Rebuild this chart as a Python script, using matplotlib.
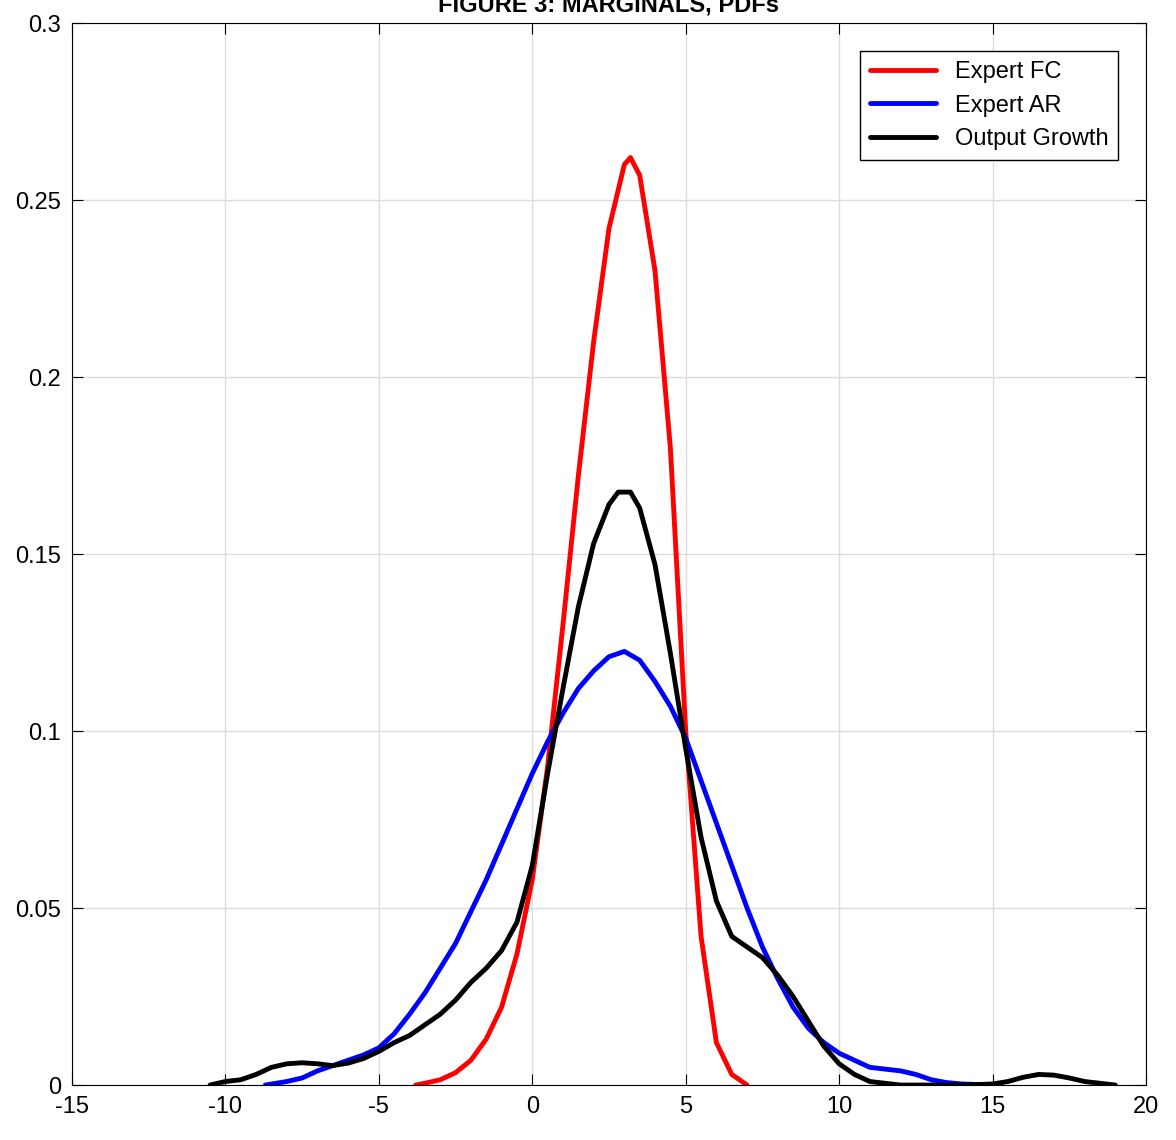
import matplotlib
matplotlib.use("Agg")
import matplotlib.pyplot as plt
import numpy as np

plt.rcParams['font.family'] = ['Liberation Sans Narrow', 'Liberation Sans', 'DejaVu Sans']
plt.rcParams['axes.unicode_minus'] = False

fc_x = [-3.8,-3.5,-3,-2.5,-2,-1.5,-1,-0.5,0,0.5,1,1.5,2,2.5,3,3.2,3.5,4,4.5,5,5.5,6,6.5,7]
fc_y = [0,0.0005,0.0015,0.0035,0.007,0.013,0.022,0.037,0.058,0.09,0.13,0.172,0.21,0.242,0.26,0.262,0.257,0.23,0.18,0.1,0.042,0.012,0.003,0]
ar_x = [-8.7,-8,-7.5,-7,-6.5,-6,-5.5,-5,-4.5,-4,-3.5,-3,-2.5,-2,-1.5,-1,-0.5,0,0.5,1,1.5,2,2.5,3,3.5,4,4.5,5,5.5,6,6.5,7,7.5,8,8.5,9,9.5,10,10.5,11,11.5,12,12.5,13,13.5,14,15]
ar_y = [0,0.001,0.002,0.004,0.0055,0.007,0.0085,0.0105,0.0145,0.02,0.026,0.033,0.04,0.049,0.058,0.068,0.078,0.088,0.097,0.105,0.112,0.117,0.121,0.1225,0.12,0.114,0.107,0.098,0.086,0.074,0.062,0.05,0.039,0.03,0.022,0.016,0.012,0.009,0.007,0.005,0.0045,0.004,0.003,0.0015,0.0007,0.0003,0]
og_x = [-10.5,-10,-9.5,-9,-8.5,-8,-7.5,-7,-6.5,-6,-5.5,-5,-4.5,-4,-3.5,-3,-2.5,-2,-1.5,-1,-0.5,0,0.5,1,1.5,2,2.5,2.8,3.2,3.5,4,4.5,5,5.5,6,6.5,7,7.5,8,8.5,9,9.5,10,10.5,11,12,14,15,15.5,16,16.5,17,17.5,18,19]
og_y = [0,0.001,0.0015,0.003,0.005,0.006,0.0063,0.006,0.0055,0.0062,0.0075,0.0095,0.012,0.014,0.017,0.02,0.024,0.029,0.033,0.038,0.046,0.062,0.088,0.112,0.135,0.153,0.164,0.1675,0.1675,0.163,0.147,0.122,0.095,0.07,0.052,0.042,0.039,0.036,0.031,0.025,0.018,0.011,0.006,0.003,0.001,0,0,0.0003,0.001,0.0022,0.003,0.0028,0.002,0.001,0]

fig = plt.figure(figsize=(11.76, 11.4), dpi=100)
ax = fig.add_axes([0.0612, 0.0482, 0.9133, 0.9316])
kw = dict(lw=3.5, solid_joinstyle='round', solid_capstyle='round')
ax.plot(fc_x, fc_y, color='#ff0000', label='Expert FC', **kw)
ax.plot(ar_x, ar_y, color='#0000ff', label='Expert AR', **kw)
ax.plot(og_x, og_y, color='black', label='Output Growth', **kw)
ax.set_xlim(-15, 20)
ax.set_ylim(0, 0.3)
ax.set_xticks(np.arange(-15, 21, 5))
ax.set_yticks([0, 0.05, 0.1, 0.15, 0.2, 0.25, 0.3])
ax.set_yticklabels(['0', '0.05', '0.1', '0.15', '0.2', '0.25', '0.3'])
ax.grid(True, color='#dddddd', lw=1)
ax.tick_params(direction='in', top=True, right=True, labelsize=17, length=8)
ax.tick_params(axis='y', pad=8)
ax.tick_params(axis='x', pad=8)
ax.set_title('FIGURE 3: MARGINALS, PDFs', fontsize=17, fontweight='bold', y=1.003)
leg = ax.legend(loc='upper right', fontsize=17, fancybox=False, framealpha=1,
                edgecolor='black', handlelength=2.8, borderaxespad=1.2)
leg.get_frame().set_linewidth(1)
fig.savefig('out.png')
